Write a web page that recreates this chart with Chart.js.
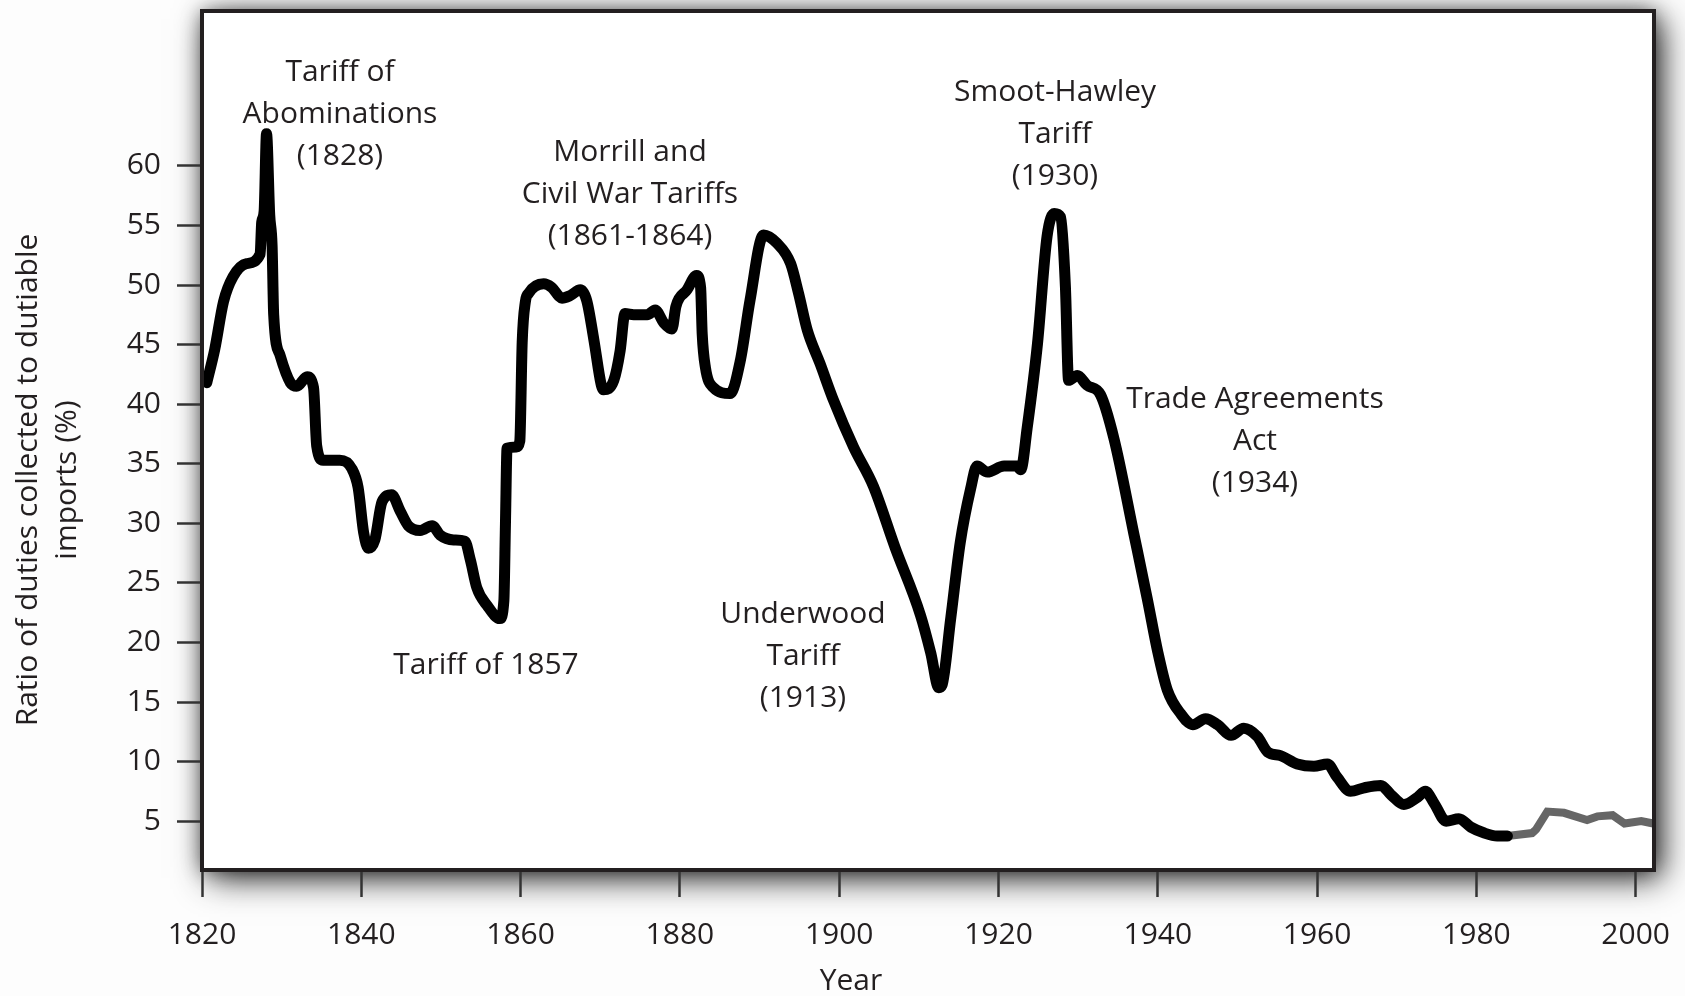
<!DOCTYPE html>
<html>
<head>
<meta charset="utf-8">
<script src="https://cdn.jsdelivr.net/npm/chart.js@4.4.1/dist/chart.umd.min.js"></script>
<style>
  html, body { margin: 0; padding: 0; background: #fdfdfd; }
  #wrap { width: 1685px; height: 996px; }
</style>
</head>
<body>
<div id="wrap"><canvas id="chart1" width="1685" height="996"></canvas></div>
<script>
// years and ratio of duties collected to dutiable imports (%)
const years = [1820.6, 1821.6, 1822.7, 1823.9, 1825.6, 1827.3, 1827.5, 1827.8, 1828.1, 1828.5,
  1828.8, 1829.0, 1829.8, 1831.1, 1831.9, 1833.2, 1834.0, 1834.4, 1835.2, 1837.3,
  1838.8, 1839.6, 1840.3, 1840.9, 1841.7, 1842.6, 1843.8, 1844.9, 1845.9, 1847.4,
  1848.9, 1849.9, 1851.6, 1853.0, 1853.7, 1854.5, 1855.8, 1857.4, 1857.9, 1858.1,
  1858.3, 1859.5, 1859.9, 1860.2, 1860.6, 1861.0, 1862.9, 1863.9, 1865.2, 1866.2,
  1867.5, 1868.3, 1869.2, 1870.1, 1870.4, 1871.7, 1872.5, 1873.1, 1874.2, 1875.9,
  1876.9, 1878.0, 1879.0, 1879.5, 1880.9, 1882.1, 1882.6, 1882.8, 1883.2, 1884.2,
  1886.3, 1887.6, 1888.8, 1890.5, 1892.2, 1893.9, 1894.9, 1896.0, 1897.6, 1899.3,
  1901.8, 1904.3, 1907.0, 1910.2, 1911.5, 1912.5, 1912.9, 1914.0, 1915.2, 1916.5,
  1917.3, 1918.6, 1920.7, 1922.3, 1922.8, 1923.6, 1924.9, 1926.1, 1927.0, 1927.8,
  1928.4, 1928.8, 1929.9, 1931.1, 1932.8, 1934.5, 1937.0, 1938.7, 1940.0, 1941.2,
  1942.9, 1944.4, 1946.0, 1947.5, 1949.2, 1950.8, 1952.5, 1953.8, 1955.4, 1957.5,
  1959.6, 1961.3, 1962.5, 1964.2, 1965.9, 1968.0, 1969.3, 1970.9, 1972.6, 1973.6,
  1974.7, 1976.2, 1977.8, 1979.3, 1981.0, 1982.6, 1983.9];
const ratio = [41.8, 44.6, 48.6, 50.7, 51.8, 52.6, 55.3, 56.2, 62.7, 55.9,
  53.3, 47.5, 44.1, 41.8, 41.5, 42.3, 41.4, 36.5, 35.3, 35.3,
  34.6, 33.0, 29.2, 27.9, 28.6, 31.8, 32.4, 31.0, 29.8, 29.4,
  29.8, 29.0, 28.6, 28.5, 26.9, 24.6, 23.1, 22.0, 23.5, 30.0,
  36.3, 36.4, 36.9, 45.2, 48.6, 49.3, 50.1, 49.8, 48.9, 49.1,
  49.6, 48.7, 45.4, 41.7, 41.2, 42.0, 44.5, 47.6, 47.5, 47.5,
  47.9, 46.8, 46.3, 48.2, 49.6, 50.8, 49.8, 45.9, 43.1, 41.4,
  40.9, 43.7, 48.7, 54.2, 53.5, 51.8, 49.3, 46.2, 43.4, 40.3,
  36.4, 33.1, 28.0, 22.3, 19.1, 16.2, 16.4, 22.0, 28.4, 32.9,
  34.8, 34.3, 34.8, 34.8, 34.5, 38.0, 45.1, 54.1, 56.0, 55.7,
  49.9, 42.0, 42.4, 41.6, 40.8, 37.1, 29.1, 23.6, 19.2, 16.0,
  14.0, 13.1, 13.6, 13.1, 12.2, 12.8, 12.1, 10.8, 10.5, 9.8,
  9.6, 9.8, 8.7, 7.5, 7.8, 8.0, 7.2, 6.4, 7.0, 7.5,
  6.5, 5.0, 5.2, 4.5, 4.0, 3.75, 3.75];

// later years, drawn in grey
const recentYears = [1983.9, 1987.0, 1987.5, 1988.9, 1991.0, 1993.9, 1995.2, 1997.1, 1998.6, 2000.7, 2002.2];
const recentRatio = [3.75, 4.0, 4.3, 5.8, 5.7, 5.1, 5.4, 5.5, 4.8, 5.0, 4.8];

const xTicks = [1820, 1840, 1860, 1880, 1900, 1920, 1940, 1960, 1980, 2000];
const yTicks = [5, 10, 15, 20, 25, 30, 35, 40, 45, 50, 55, 60];

const notes = [
  { lines: ['Tariff of', 'Abominations', '(1828)'], year: 1828 },
  { lines: ['Morrill and', 'Civil War Tariffs', '(1861-1864)'], year: 1861 },
  { lines: ['Smoot-Hawley', 'Tariff', '(1930)'], year: 1930 },
  { lines: ['Trade Agreements', 'Act', '(1934)'], year: 1934 },
  { lines: ['Tariff of 1857'], year: 1857 },
  { lines: ['Underwood', 'Tariff', '(1913)'], year: 1913 }
];
// where each note sits on the canvas (centre x, first line y)
const notePos = [[340, 72], [630, 152], [1055, 92], [1255, 399], [486, 665], [803, 614]];

const font = '"Open Sans", "Noto Sans", sans-serif';
const ink = '#231f20';

function toPoints(xs, ys) {
  return xs.map((x, i) => ({ x: x, y: ys[i] }));
}

const framePlugin = {
  id: 'frame',
  beforeDraw(chart) {
    const ctx = chart.ctx;
    const a = chart.chartArea;
    ctx.save();
    ctx.fillStyle = '#fdfdfd';
    ctx.fillRect(0, 0, chart.width, chart.height);
    ctx.fillStyle = '#ffffff';
    // soft drop shadow around the plot frame
    ctx.shadowColor = 'rgba(0,0,0,0.85)';
    ctx.shadowBlur = 32;
    ctx.shadowOffsetX = 7;
    ctx.shadowOffsetY = 8;
    ctx.fillRect(a.left, a.top, a.right - a.left, a.bottom - a.top);
    ctx.shadowOffsetX = 0;
    ctx.shadowOffsetY = 0;
    ctx.shadowBlur = 18;
    ctx.shadowColor = 'rgba(0,0,0,0.45)';
    ctx.fillRect(a.left, a.top, a.right - a.left, a.bottom - a.top);
    ctx.restore();
  },
  afterDraw(chart) {
    const ctx = chart.ctx;
    const a = chart.chartArea;
    ctx.save();
    ctx.strokeStyle = ink;
    ctx.lineWidth = 4;
    ctx.strokeRect(a.left, a.top, a.right - a.left, a.bottom - a.top);

    ctx.fillStyle = ink;
    ctx.font = '30px ' + font;
    ctx.textAlign = 'center';
    ctx.textBaseline = 'middle';
    notes.forEach((n, i) => {
      n.lines.forEach((t, j) => {
        ctx.fillText(t, notePos[i][0], notePos[i][1] + j * 42);
      });
    });

    ctx.fillText('Year', 851, 981);

    ctx.translate(0, 480);
    ctx.rotate(-Math.PI / 2);
    ctx.fillText('Ratio of duties collected to dutiable', 0, 28);
    ctx.fillText('imports (%)', 0, 67);
    ctx.restore();
  }
};

const ctx1 = document.getElementById('chart1').getContext('2d');
const myChart = new Chart(ctx1, {
  type: 'line',
  data: {
    datasets: [{
      data: toPoints(years, ratio),
      borderColor: '#000000',
      borderWidth: 11,
      cubicInterpolationMode: 'monotone',
      borderJoinStyle: 'round',
      borderCapStyle: 'round',
      pointRadius: 0,
      fill: false
    }, {
      data: toPoints(recentYears, recentRatio),
      borderColor: '#666666',
      borderWidth: 8,
      tension: 0,
      borderJoinStyle: 'miter',
      borderCapStyle: 'butt',
      pointRadius: 0,
      fill: false
    }]
  },
  options: {
    responsive: false,
    devicePixelRatio: 1,
    animation: false,
    layout: { padding: { top: 11, right: 31, left: 0, bottom: 0 } },
    plugins: {
      legend: { display: false },
      tooltip: { enabled: false }
    },
    scales: {
      x: {
        type: 'linear',
        min: 1820,
        max: 2002.3,
        afterBuildTicks: axis => { axis.ticks = xTicks.map(v => ({ value: v })); },
        afterFit: axis => {
          axis.height = 126;
          axis.paddingLeft = 0;
          axis.paddingRight = 0;
        },
        grid: { drawOnChartArea: false, drawTicks: true, tickLength: 27, tickWidth: 2.5, tickColor: '#333333' },
        border: { display: false },
        ticks: {
          autoSkip: false,
          maxRotation: 0,
          padding: 20,
          color: ink,
          font: { family: font, size: 30 },
          callback: v => String(v)
        }
      },
      y: {
        min: 0.9,
        max: 73,
        afterBuildTicks: axis => { axis.ticks = yTicks.map(v => ({ value: v })); },
        afterFit: axis => {
          axis.width = 202;
          axis.paddingTop = 0;
          axis.paddingBottom = 0;
        },
        grid: { drawOnChartArea: false, drawTicks: true, tickLength: 25, tickWidth: 2.5, tickColor: '#333333' },
        border: { display: false },
        ticks: {
          padding: 16,
          color: ink,
          font: { family: font, size: 30 },
          callback: v => String(v)
        }
      }
    }
  },
  plugins: [framePlugin]
});
</script>
</body>
</html>
